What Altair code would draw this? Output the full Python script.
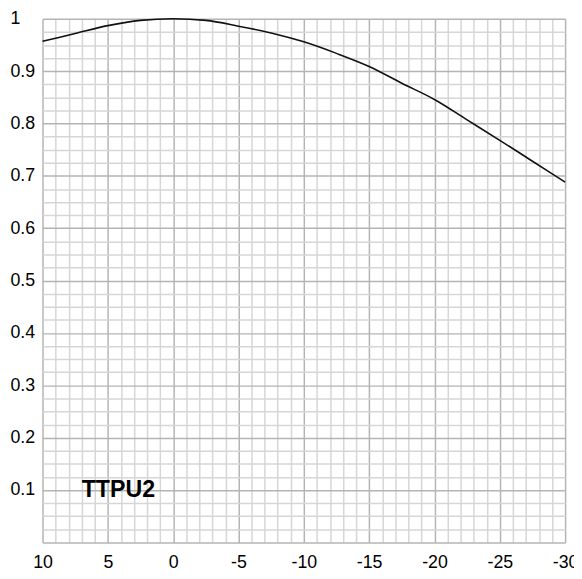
import altair as alt
import pandas as pd

# curve data
x_vals = [10, 7.5, 5, 2.5, 0, -2.5, -5, -7.5, -10, -12.5, -15, -17.5, -20, -22.5, -25, -27.5, -30]
y_vals = [0.957, 0.972, 0.987, 0.997, 1.0, 0.997, 0.986, 0.973, 0.956, 0.934, 0.909, 0.877, 0.846, 0.807, 0.768, 0.728, 0.688]

# grid / tick positions
x_ticks = list(range(-30, 11))
y_ticks = [round(i * 0.025, 3) for i in range(41)]

label_text = ["TTPU2"]
label_x = [7]
label_y = [0.1]

df = pd.DataFrame({"x": x_vals, "y": y_vals})
lab = pd.DataFrame({"x": label_x, "y": label_y, "t": label_text})

FONT = "Liberation Sans"
MAJOR = "#b4b4b4"
MINOR = "#d6d6d6"

xscale = alt.Scale(domain=[-30, 10], reverse=True, nice=False, zero=False)
yscale = alt.Scale(domain=[0, 1], nice=False, zero=False)

is_major_y = "abs(datum.value*10 - round(datum.value*10)) < 0.000001"

xaxis = alt.Axis(
    values=x_ticks,
    title=None,
    domain=False,
    ticks=False,
    tickSize=0,
    labelOverlap=False,
    labelFlush=False,
    labelPadding=11,
    labelFont=FONT,
    labelFontSize=18,
    labelColor="#000000",
    labelExpr="datum.value % 5 === 0 ? toString(datum.value) : ''",
    grid=True,
    gridColor={"condition": {"test": "datum.value % 5 === 0", "value": MAJOR}, "value": MINOR},
    gridWidth=1.5,
)
yaxis = alt.Axis(
    values=y_ticks,
    title=None,
    domain=False,
    ticks=False,
    tickSize=0,
    labelOverlap=False,
    labelFlush=False,
    labelAlign="left",
    labelBaseline="middle",
    labelPadding=33,
    labelFont=FONT,
    labelFontSize=18,
    labelColor="#000000",
    labelExpr="(" + is_major_y + " && datum.value > 0) ? toString(round(datum.value*10)/10) : ''",
    grid=True,
    gridColor={"condition": {"test": is_major_y, "value": MAJOR}, "value": MINOR},
    gridWidth=1.5,
)

line = alt.Chart(df).mark_line(color="#111111", strokeWidth=1.6, interpolate="monotone").encode(
    x=alt.X("x:Q", scale=xscale, axis=xaxis),
    y=alt.Y("y:Q", scale=yscale, axis=yaxis),
)

text = alt.Chart(lab).mark_text(
    align="left", baseline="middle", font=FONT, fontSize=23.5, fontWeight="bold", color="#000000"
).encode(
    x=alt.X("x:Q", scale=xscale, axis=xaxis),
    y=alt.Y("y:Q", scale=yscale, axis=yaxis),
    text="t:N",
)

chart = alt.layer(line, text).properties(
    width=530,
    height=531,
    autosize=alt.AutoSizeParams(type="none"),
    padding={"left": 35, "top": 7, "right": 9, "bottom": 25},
).configure_view(stroke=None)

chart.save("out.html", embed_options={"renderer": "svg", "actions": False})
